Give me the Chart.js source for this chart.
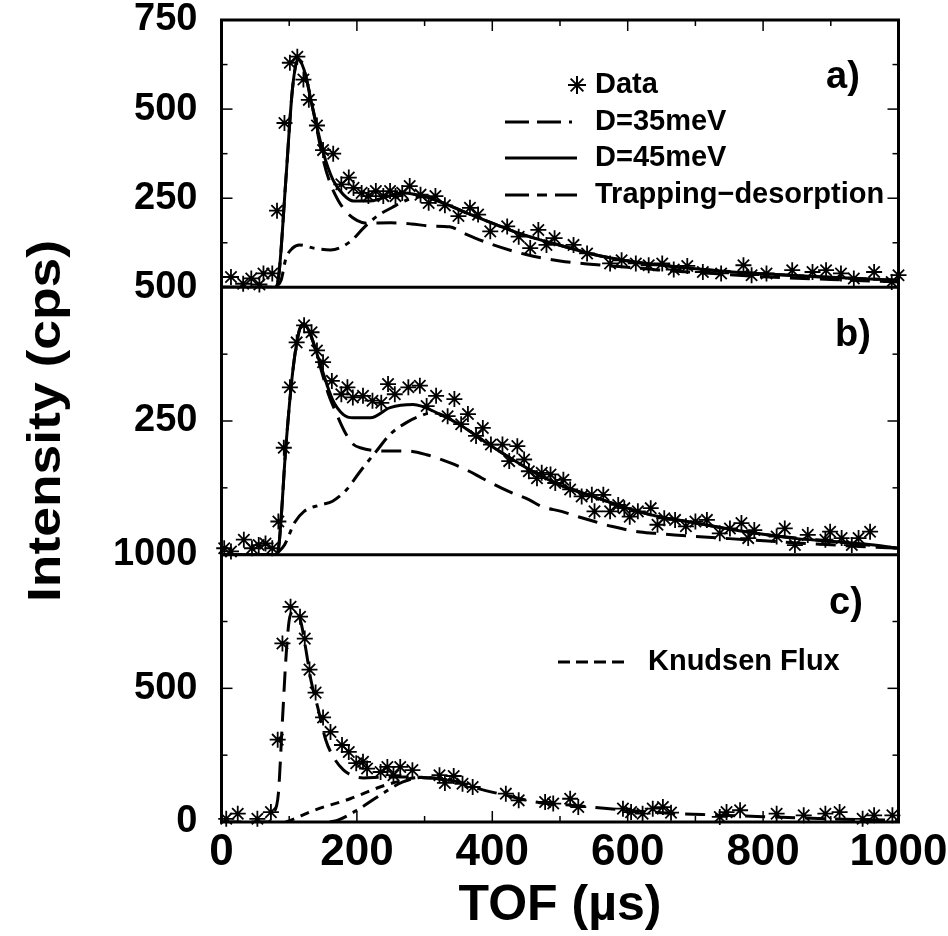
<!DOCTYPE html>
<html>
<head>
<meta charset="utf-8">
<script src="https://cdn.jsdelivr.net/npm/chart.js@4/dist/chart.umd.min.js"></script>
<style>
	html, body { margin: 0; padding: 0; background: #fff; }
</style>
</head>
<body>
<canvas id="chart-tof" width="948" height="936"></canvas>
<script>
const FONT = "'Liberation Sans', Arial, Helvetica, sans-serif";

// ----------------------------------------------
// Panel a)  [TOF (us), intensity (cps)]
// ----------------------------------------------
const dataA = [[14,29],[32,10],[44,25],[56,8],[62,39],[75,39],[82,215],[93,461],[101,630],[112,647],[121,583],[129,526],[141,454],[150,385],[165,375],[177,289],[188,308],[195,279],[207,265],[217,256],[228,270],[239,256],[249,270],[257,256],[267,265],[278,284],[294,260],[306,237],[316,256],[330,230],[350,200],[367,223],[379,204],[397,157],[422,171],[439,142],[456,110],[468,161],[480,119],[492,138],[520,119],[540,95],[574,67],[591,76],[612,67],[631,62],[651,67],[668,50],[688,60],[711,43],[738,39],[771,62],[783,34],[805,39],[843,48],[873,43],[893,48],[915,39],[934,25],[964,43],[990,15],[1000,34]];
const fit35A = [[0,0],[80,0],[85,40],[95,300],[105,560],[113,640],[122,610],[135,500],[150,360],[160,295],[172,245],[185,210],[200,188],[215,180],[250,181],[280,178],[310,172],[337,170],[360,150],[400,120],[450,92],[500,74],[550,64],[615,54],[650,48],[700,42],[800,30],[900,22],[1000,15]];
const fit45A = [[0,0],[80,0],[85,40],[95,300],[105,560],[113,640],[122,610],[135,500],[150,380],[165,300],[180,260],[195,242],[220,242],[245,255],[270,265],[300,255],[330,235],[360,210],[400,180],[450,145],[500,118],[550,92],[600,74],[650,62],[700,52],[750,44],[800,38],[850,33],[900,28],[950,24],[1000,20]];
const trapA = [[80,0],[88,20],[95,80],[105,110],[115,119],[136,110],[161,105],[190,128],[210,167],[230,200],[252,224],[274,245],[300,255],[330,235],[360,210],[400,180],[450,145],[500,118],[550,92],[600,74],[650,62],[700,52],[800,38],[900,28],[1000,20]];

// ----------------------------------------------
// Panel b)
// ----------------------------------------------
const dataB = [[4,12],[14,6],[33,28],[45,12],[55,18],[65,21],[75,12],[84,62],[92,200],[101,313],[111,397],[122,429],[133,416],[141,382],[150,360],[163,325],[177,300],[186,313],[194,294],[209,297],[223,288],[236,284],[246,319],[256,300],[276,313],[293,316],[303,278],[317,297],[334,259],[344,291],[354,244],[364,263],[376,222],[386,237],[398,206],[415,206],[425,175],[437,203],[447,178],[454,156],[466,143],[473,153],[486,150],[493,134],[505,140],[515,122],[532,109],[547,112],[551,81],[564,112],[574,81],[586,93],[595,87],[603,71],[615,81],[634,87],[644,56],[654,68],[670,65],[686,53],[700,62],[717,65],[736,40],[751,49],[768,59],[778,31],[787,46],[820,34],[832,49],[847,18],[866,37],[892,28],[899,43],[916,31],[931,18],[941,31],[958,43]];
const fit35B = [[0,0],[80,0],[85,20],[95,200],[105,340],[115,420],[122,432],[132,410],[145,355],[158,300],[168,269],[182,230],[195,206],[205,200],[239,194],[273,194],[303,187],[337,172],[366,156],[385,143],[425,118],[454,103],[473,90],[502,81],[527,71],[551,62],[576,53],[615,43],[640,40],[669,37],[750,30],[850,22],[950,15],[1000,12]];
const fit45B = [[0,0],[80,0],[85,20],[95,200],[105,340],[115,420],[122,432],[132,410],[145,360],[164,290],[180,262],[195,256],[220,256],[249,275],[283,281],[322,263],[351,244],[395,206],[430,178],[468,150],[500,130],[542,112],[580,95],[615,81],[650,70],[688,62],[750,48],[800,38],[850,30],[900,25],[950,20],[1000,12]];
const trapB = [[80,0],[93,18],[108,60],[122,81],[146,93],[164,100],[185,122],[205,156],[229,194],[249,225],[273,247],[293,259],[310,265],[322,263],[351,244],[395,206],[430,178],[468,150],[500,130],[542,112],[580,95],[615,81],[650,70],[688,62],[750,48],[800,38],[900,25],[1000,12]];

// ----------------------------------------------
// Panel c)
// ----------------------------------------------
const dataC = [[7,12],[24,31],[53,12],[73,37],[83,308],[90,668],[102,805],[116,768],[123,686],[130,570],[139,484],[150,391],[161,337],[178,288],[188,262],[199,220],[209,225],[215,200],[235,187],[245,206],[254,175],[264,206],[282,194],[322,175],[330,146],[343,172],[356,143],[371,131],[420,106],[439,81],[478,75],[490,69],[515,87],[527,56],[593,50],[605,37],[622,31],[637,50],[652,56],[664,35],[736,19],[746,37],[766,44],[820,31],[860,25],[892,31],[913,37],[947,12],[964,25],[991,25]];
const fitC = [[0,0],[70,0],[76,30],[84,106],[90,380],[96,644],[101,768],[108,790],[113,780],[118,740],[125,640],[132,532],[142,431],[154,307],[166,240],[180,195],[195,172],[210,165],[240,168],[280,168],[320,162],[350,150],[371,131],[420,100],[470,72],[520,62],[590,46],[660,33],[710,28],[800,20],[900,12],[1000,6]];
const knudsenC = [[95,0],[102,6],[137,44],[190,87],[234,131],[259,150],[290,166],[320,162],[340,155]];
const trapC = [[160,0],[171,6],[200,44],[234,100],[268,150],[300,168],[320,162],[340,155]];

const pts = (arr) => arr.map(([x, y]) => ({ x, y }));

const DASH_35 = [20, 10];
const DASH_TRAP = [18, 7, 5, 7];
const DASH_KNUDSEN = [9, 7];

const dataSet = (arr, axis) => ({
	data: pts(arr),
	yAxisID: axis,
	showLine: false,
	pointStyle: "star",
	pointRadius: 8,
	pointBorderWidth: 1.8,
	pointBorderColor: "#000",
	pointBackgroundColor: "#000",
	clip: false,
});

const curveSet = (arr, axis, dash, width) => ({
	data: pts(arr),
	yAxisID: axis,
	showLine: true,
	borderColor: "#000",
	borderWidth: width || 3,
	borderDash: dash,
	pointRadius: 0,
	cubicInterpolationMode: "monotone",
});

// ----------------------------------------------
// Frame, inward ticks and panel separators
// ----------------------------------------------
const frameTicks = {
	id: "frameTicks",
	afterDatasetsDraw(chart) {
		const { ctx, chartArea: ca, scales } = chart;
		const line = (x1, y1, x2, y2) => {
			ctx.beginPath();
			ctx.moveTo(x1, y1);
			ctx.lineTo(x2, y2);
			ctx.stroke();
		};
		ctx.save();
		ctx.strokeStyle = "#000";
		ctx.lineWidth = 1.5;
		[["ya", 125], ["yb", 125], ["yc", 250]].forEach(([id, step]) => {
			const s = scales[id];
			for (let v = step; v < s.max; v += step) {
				const y = s.getPixelForValue(v);
				const len = v % (step * 2) === 0 ? 11 : 6;
				line(ca.left, y, ca.left + len, y);
				line(ca.right, y, ca.right - len, y);
			}
		});
		const xs = scales.x;
		for (let v = 100; v < 1000; v += 100) {
			const x = xs.getPixelForValue(v);
			const len = v % 200 === 0 ? 11 : 6;
			line(x, ca.top, x, ca.top + len);
			line(x, ca.bottom, x, ca.bottom - len);
		}
		ctx.lineWidth = 3;
		ctx.strokeRect(ca.left, ca.top, ca.width, ca.height);
		line(ca.left, scales.ya.bottom, ca.right, scales.ya.bottom);
		line(ca.left, scales.yb.bottom, ca.right, scales.yb.bottom);
		ctx.restore();
	},
};

// ----------------------------------------------
// Legends, panel letters and y title
// ----------------------------------------------
const legends = {
	id: "legends",
	afterDraw(chart) {
		const { ctx, scales } = chart;
		const sample = (x1, x2, y, dash) => {
			ctx.save();
			ctx.lineWidth = 3;
			ctx.setLineDash(dash);
			ctx.beginPath();
			ctx.moveTo(x1, y);
			ctx.lineTo(x2, y);
			ctx.stroke();
			ctx.restore();
		};
		ctx.save();
		ctx.fillStyle = "#000";
		ctx.strokeStyle = "#000";
		ctx.textBaseline = "middle";
		ctx.textAlign = "left";
		ctx.font = "bold 29px " + FONT;

		// asterisk marker
		ctx.lineWidth = 2;
		const ax = 577, ay = 85, r = 9;
		for (let k = 0; k < 4; k++) {
			const a = (k * Math.PI) / 4;
			ctx.beginPath();
			ctx.moveTo(ax - r * Math.cos(a), ay - r * Math.sin(a));
			ctx.lineTo(ax + r * Math.cos(a), ay + r * Math.sin(a));
			ctx.stroke();
		}
		ctx.fillText("Data", 595, ay);
		sample(505, 577, 122, [24, 8, 24, 8, 3, 100]);
		ctx.fillText("D=35meV", 595, 122);
		sample(505, 577, 158, []);
		ctx.fillText("D=45meV", 595, 158);
		sample(505, 577, 195, [24, 8, 10, 8, 24, 100]);
		ctx.fillText("Trapping\u2212desorption", 595, 195);

		sample(558, 630, 662, [12, 6, 12, 6, 12, 6, 12, 6, 3, 100]);
		ctx.fillText("Knudsen Flux", 648, 662);

		ctx.font = "bold 38px " + FONT;
		ctx.textAlign = "center";
		ctx.fillText("a)", 843, 78);
		ctx.fillText("b)", 853, 336);
		ctx.fillText("c)", 846, 604);

		// y title, slightly stretched along the text like the original
		const yb = scales.yb;
		ctx.font = "bold 46px " + FONT;
		const w = ctx.measureText("Intensity (cps)").width;
		ctx.translate(47, (yb.top + yb.bottom) / 2);
		ctx.rotate(-Math.PI / 2);
		ctx.scale(362 / w, 1);
		ctx.fillText("Intensity (cps)", 0, 0);
		ctx.restore();
	},
};

const yAxis = (max, step, showZero, weight) => ({
	type: "linear",
	position: "left",
	stack: "panels",
	stackWeight: weight,
	min: 0,
	max: max,
	border: { display: false },
	grid: { display: false, drawTicks: false },
	ticks: {
		stepSize: step,
		autoSkip: false,
		padding: 24,
		color: "#000",
		font: { family: FONT, size: 38, weight: "bold" },
		callback: (v) => (v === 0 && !showZero ? "" : String(v)),
	},
	afterFit: (scale) => {
		scale.width = 221.5;
		scale.paddingTop = 0;
		scale.paddingBottom = 0;
	},
});

const CHART_CONFIG = {
	type: "scatter",
	data: {
		datasets: [
			dataSet(dataA, "ya"),
			curveSet(fit35A, "ya", DASH_35),
			curveSet(fit45A, "ya", []),
			curveSet(trapA, "ya", DASH_TRAP),
			dataSet(dataB, "yb"),
			curveSet(fit35B, "yb", DASH_35),
			curveSet(fit45B, "yb", []),
			curveSet(trapB, "yb", DASH_TRAP),
			dataSet(dataC, "yc"),
			curveSet(fitC, "yc", DASH_35),
			curveSet(knudsenC, "yc", DASH_KNUDSEN),
			curveSet(trapC, "yc", DASH_TRAP),
		],
	},
	options: {
		responsive: false,
		animation: false,
		devicePixelRatio: 1,
		layout: { padding: { top: 20, right: 49.5, left: 0, bottom: 0 } },
		plugins: {
			legend: { display: false },
			tooltip: { enabled: false },
		},
		scales: {
			x: {
				type: "linear",
				min: 0,
				max: 1000,
				border: { display: false },
				grid: { display: false, drawTicks: false },
				ticks: {
					stepSize: 200,
					padding: 4,
					color: "#000",
					font: { family: FONT, size: 44, weight: "bold" },
					callback: (v) => String(v),
				},
				title: {
					display: true,
					text: "TOF (\u00b5s)",
					color: "#000",
					padding: { top: -5, bottom: 0 },
					font: { family: FONT, size: 50, weight: "bold" },
				},
				afterFit: (scale) => {
					scale.height = 114;
					scale.paddingLeft = 0;
					scale.paddingRight = 0;
				},
			},
			yc: yAxis(1000, 500, true, 1),
			yb: yAxis(500, 250, false, 1),
			ya: yAxis(750, 250, false, 1),
		},
	},
	plugins: [frameTicks, legends],
};

new Chart(document.getElementById("chart-tof"), CHART_CONFIG);
</script>
</body>
</html>
